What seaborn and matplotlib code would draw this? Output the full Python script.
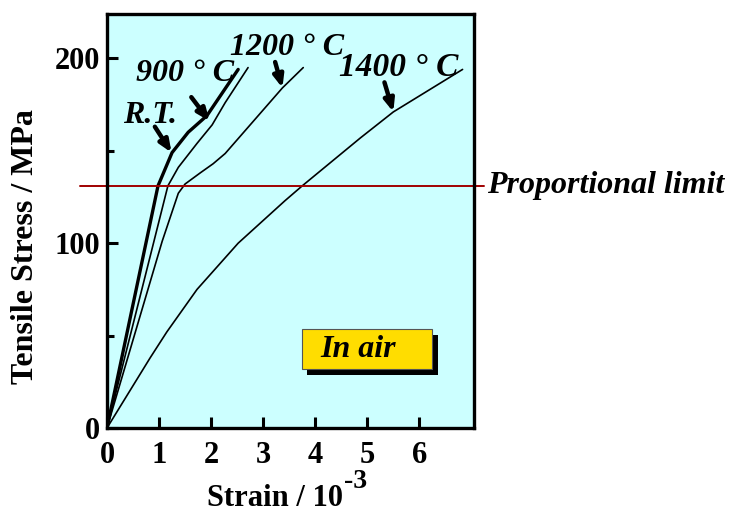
import numpy as np
import pandas as pd
import seaborn as sns
import matplotlib.pyplot as plt
from matplotlib.patches import Rectangle

# strain (10^-3) / stress (MPa)
rt_strain = [0, 0.98, 1.25, 1.56, 1.92, 2.52]
rt_stress = [0, 131, 149, 160, 169, 194]

c900_strain = [0, 1.17, 1.37, 1.73, 2.02, 2.27, 2.71]
c900_stress = [0, 131, 141, 154, 164, 176, 195]

c1200_strain = [0, 1.06, 1.37, 1.5, 1.79, 2.04, 2.27, 3.37, 3.77]
c1200_stress = [0, 101, 127, 132, 138, 143, 148.5, 184, 195]

c1400_strain = [0, 0.83, 1.15, 1.73, 2.52, 3.42, 3.75, 4.87, 5.5, 6.83]
c1400_stress = [0, 38, 52, 75, 100, 123, 131, 157, 171, 194]

prop_limit = 131
xticks = [0, 1, 2, 3, 4, 5, 6]
yticks = [0, 100, 200]

sns.set_theme(style="ticks")
plt.rcParams['font.family'] = ['Liberation Serif', 'DejaVu Serif']
plt.rcParams['font.weight'] = 'bold'
for key in ['text.color', 'axes.labelcolor', 'xtick.color', 'ytick.color']:
    plt.rcParams[key] = 'black'

fig = plt.figure(figsize=(7.46, 5.14), dpi=100)
ax = fig.add_axes([0.1434, 0.1673, 0.492, 0.8055])
ax.set_facecolor('#CCFFFF')

curves = [
    (rt_strain, rt_stress, 2.4),
    (c900_strain, c900_stress, 1.2),
    (c1200_strain, c1200_stress, 1.2),
    (c1400_strain, c1400_stress, 1.2),
]
for xs, ys, lw in curves:
    df = pd.DataFrame({'strain': xs, 'stress': ys})
    sns.lineplot(data=df, x='strain', y='stress', sort=False, estimator=None,
                 color='black', lw=lw, ax=ax)

ax.set_xlim(0, 7.05)
ax.set_ylim(0, 224)
ax.set_xticks(xticks)
ax.set_yticks(yticks)
ax.set_yticks([50, 150], minor=True)
ax.tick_params(axis='x', which='major', direction='in', length=8, width=2.2,
               labelsize=22, pad=9)
ax.tick_params(axis='y', which='major', direction='in', length=8, width=2.2,
               labelsize=22, pad=5)
ax.tick_params(axis='y', which='minor', direction='in', length=5, width=2.2)
for lab in ax.get_xticklabels() + ax.get_yticklabels():
    lab.set_fontweight('bold')
for sp in ax.spines.values():
    sp.set_linewidth(2.4)
    sp.set_color('black')

ax.set_xlabel('')
ax.set_ylabel('')
fig.text(343 / 746, 1 - 498 / 514, 'Strain / 10', fontsize=22, fontweight='bold',
         ha='right', va='center')
fig.text(344 / 746, 1 - 482 / 514, '-3', fontsize=20, fontweight='bold',
         ha='left', va='center')
fig.text(26 / 746, 1 - 247 / 514, 'Tensile Stress / MPa', fontsize=23, fontweight='bold',
         ha='center', va='center', rotation=90)

# proportional limit line running past the frame
ax.axhline(prop_limit, xmin=-0.074, xmax=1.028, color='#A00000', lw=1.4, clip_on=False)
ax.text(7.3, prop_limit, 'Proportional limit', fontsize=23, fontweight='bold',
        style='italic', va='center', ha='left', clip_on=False)

arrow = dict(arrowstyle='-|>,head_length=0.6,head_width=0.25', color='black', lw=3.2,
             shrinkA=0, shrinkB=0)
ax.annotate('', xy=(1.24, 149), xytext=(0.92, 163), arrowprops=arrow)
ax.text(0.83, 169, 'R.T.', fontsize=23, fontweight='bold', style='italic',
        ha='center', va='center')
ax.annotate('', xy=(1.97, 166), xytext=(1.62, 179), arrowprops=arrow)
ax.text(1.5, 192, '900 ° C', fontsize=23, fontweight='bold', style='italic',
        ha='center', va='center')
ax.annotate('', xy=(3.37, 184), xytext=(3.23, 198), arrowprops=arrow)
ax.text(3.45, 206, '1200 ° C', fontsize=23, fontweight='bold', style='italic',
        ha='center', va='center')
ax.annotate('', xy=(5.5, 171), xytext=(5.33, 187), arrowprops=arrow)
ax.text(5.6, 195, '1400 ° C', fontsize=24, fontweight='bold', style='italic',
        ha='center', va='center')

# "In air" box with drop shadow
ax.add_patch(Rectangle((3.85, 28.5), 2.5, 21.6, facecolor='black', edgecolor='none', zorder=3))
ax.add_patch(Rectangle((3.75, 31.8), 2.5, 21.6, facecolor='#FFDD00', edgecolor='#555555',
                       lw=0.8, zorder=4))
ax.text(4.1, 42.6, 'In air', fontsize=23, fontweight='bold', style='italic',
        ha='left', va='center', zorder=5)

fig.savefig('out.png', dpi=100)
